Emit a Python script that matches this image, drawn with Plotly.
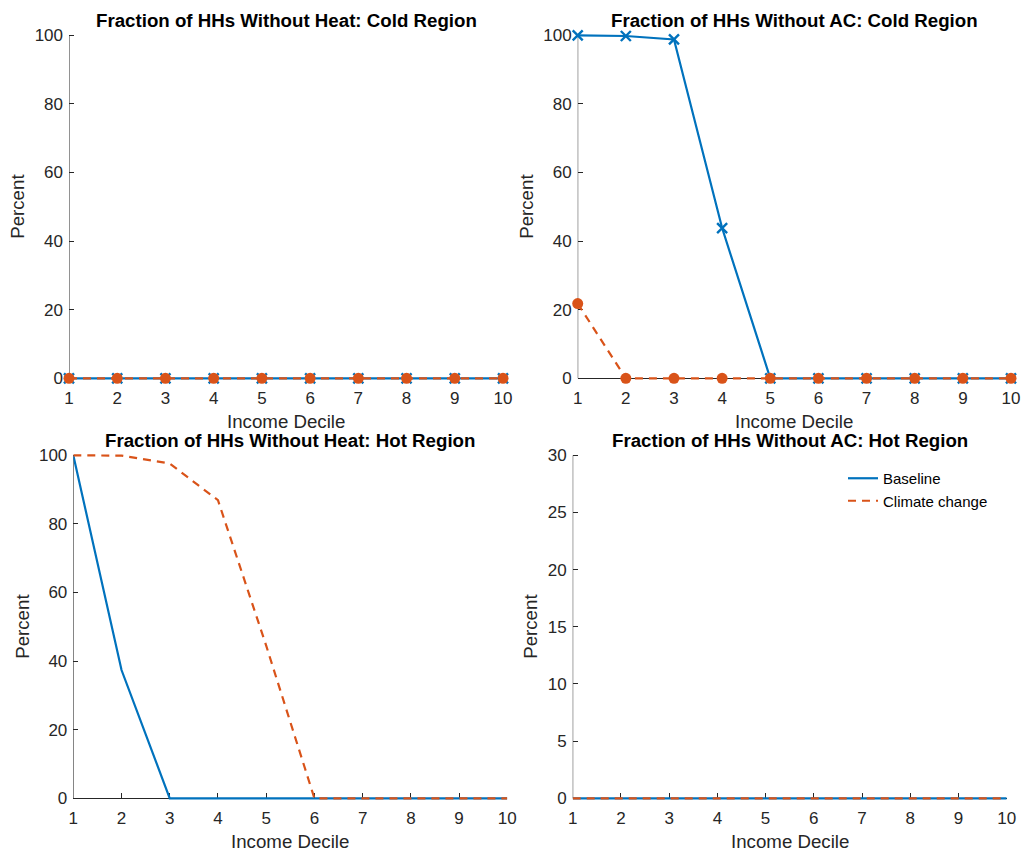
import plotly.graph_objects as go

# Income deciles on the x axis
deciles = [1, 2, 3, 4, 5, 6, 7, 8, 9, 10]

# Percent of households without heat, cold region
heat_cold_baseline = [0, 0, 0, 0, 0, 0, 0, 0, 0, 0]
heat_cold_climate = [0, 0, 0, 0, 0, 0, 0, 0, 0, 0]

# Percent of households without AC, cold region
ac_cold_baseline = [100, 99.8, 98.8, 43.8, 0, 0, 0, 0, 0, 0]
ac_cold_climate = [21.8, 0, 0, 0, 0, 0, 0, 0, 0, 0]

# Percent of households without heat, hot region
heat_hot_baseline = [100, 37.4, 0, 0, 0, 0, 0, 0, 0, 0]
heat_hot_climate = [100, 99.9, 97.6, 86.9, 44.5, 0, 0, 0, 0, 0]

# Percent of households without AC, hot region
ac_hot_baseline = [0, 0, 0, 0, 0, 0, 0, 0, 0, 0]
ac_hot_climate = [0, 0, 0, 0, 0, 0, 0, 0, 0, 0]

titles = [
    "Fraction of HHs Without Heat: Cold Region",
    "Fraction of HHs Without AC: Cold Region",
    "Fraction of HHs Without Heat: Hot Region",
    "Fraction of HHs Without AC: Hot Region",
]
series_names = ["Baseline", "Climate change"]

BLUE = "#0072BD"
ORANGE = "#D95319"
AX = "#262626"
FONT = "Liberation Sans, Arial, Helvetica, sans-serif"
W, H = 1024, 856
PAD = 8  # extra room (px) above/below the axes box so lines on the limits keep full width

# panel axes boxes in pixels: (left, right, top, bottom)
panels = [
    (69, 503, 35.3, 378.3),
    (577.7, 1011, 35.3, 378.3),
    (73.3, 507.3, 455.3, 798.3),
    (572.7, 1006.7, 455.3, 798.3),
]
y_ranges = [[0, 100], [0, 100], [0, 100], [0, 30]]
y_ticks = [
    [0, 20, 40, 60, 80, 100],
    [0, 20, 40, 60, 80, 100],
    [0, 20, 40, 60, 80, 100],
    [0, 5, 10, 15, 20, 25, 30],
]
panel_data = [
    (heat_cold_baseline, heat_cold_climate, True),
    (ac_cold_baseline, ac_cold_climate, True),
    (heat_hot_baseline, heat_hot_climate, False),
    (ac_hot_baseline, ac_hot_climate, False),
]
ylabel_x = [18, 527, 23, 531]

fig = go.Figure()
layout = dict(
    width=W, height=H,
    margin=dict(l=0, r=0, t=0, b=0, autoexpand=False),
    paper_bgcolor="white", plot_bgcolor="white",
    font=dict(family=FONT, color=AX),
    showlegend=True,
    legend=dict(
        x=843 / W, y=1 - 462 / H, xanchor="left", yanchor="top",
        bgcolor="rgba(0,0,0,0)", borderwidth=0,
        font=dict(family=FONT, size=15, color="black"),
        itemwidth=30, tracegroupgap=0,
    ),
)
annotations = []
shapes = []

for i, ((l, r, t, b), (base, clim, markers)) in enumerate(zip(panels, panel_data)):
    n = "" if i == 0 else str(i + 1)
    xa, ya = "x" + n, "y" + n
    show_leg = i == 3
    fig.add_trace(go.Scatter(
        x=deciles, y=base, xaxis=xa, yaxis=ya, name=series_names[0],
        mode="lines+markers" if markers else "lines",
        line=dict(color=BLUE, width=2.2),
        marker=dict(symbol="x-thin", size=10, line=dict(color=BLUE, width=2.4)),
        showlegend=show_leg, cliponaxis=False,
    ))
    fig.add_trace(go.Scatter(
        x=deciles, y=clim, xaxis=xa, yaxis=ya, name=series_names[1],
        mode="lines+markers" if markers else "lines",
        line=dict(color=ORANGE, width=2.2, dash="8px,6px"),
        marker=dict(symbol="circle", size=11, color=ORANGE),
        showlegend=show_leg, cliponaxis=False,
    ))
    common = dict(
        linecolor=AX, linewidth=1,
        ticks="inside", ticklen=5, tickcolor=AX, tickwidth=1,
        showgrid=False, zeroline=False, mirror=False, automargin=False,
        layer="below traces",
        tickfont=dict(family=FONT, size=17, color=AX),
    )
    # x axis sits on the y = 0 level of the padded plotting area
    layout["xaxis" + n] = dict(
        common, showline=True, domain=[l / W, r / W],
        anchor="free", position=1 - b / H,
        range=[1, 10], tickvals=deciles, ticklabelstandoff=4,
    )
    y0, y1 = y_ranges[i]
    per_px = (y1 - y0) / (b - t)
    layout["yaxis" + n] = dict(
        common, showline=False,
        domain=[1 - (b + PAD) / H, 1 - (t - PAD) / H], anchor=xa,
        range=[y0 - PAD * per_px, y1 + PAD * per_px],
        tickvals=y_ticks[i], ticklabelstandoff=5,
    )
    # y axis line spanning only the value range
    shapes.append(dict(
        type="line", xref=xa, yref=ya, layer="below",
        x0=deciles[0], x1=deciles[0], y0=y0, y1=y1,
        line=dict(color=AX, width=1),
    ))
    cx = (l + r) / 2
    annotations.append(dict(
        text="<b>" + titles[i] + "</b>", x=cx / W, y=1 - (t - 15) / H,
        xref="paper", yref="paper", xanchor="center", yanchor="middle",
        showarrow=False, font=dict(family=FONT, size=18.7, color="black"),
    ))
    annotations.append(dict(
        text="Income Decile", x=cx / W, y=1 - (b + 43) / H,
        xref="paper", yref="paper", xanchor="center", yanchor="middle",
        showarrow=False, font=dict(family=FONT, size=18.7, color=AX),
    ))
    annotations.append(dict(
        text="Percent", x=ylabel_x[i] / W, y=1 - ((t + b) / 2) / H,
        xref="paper", yref="paper", xanchor="center", yanchor="middle",
        textangle=-90, showarrow=False,
        font=dict(family=FONT, size=18.7, color=AX),
    ))

layout["annotations"] = annotations
layout["shapes"] = shapes
fig.update_layout(**layout)
fig.write_html("out.html")
